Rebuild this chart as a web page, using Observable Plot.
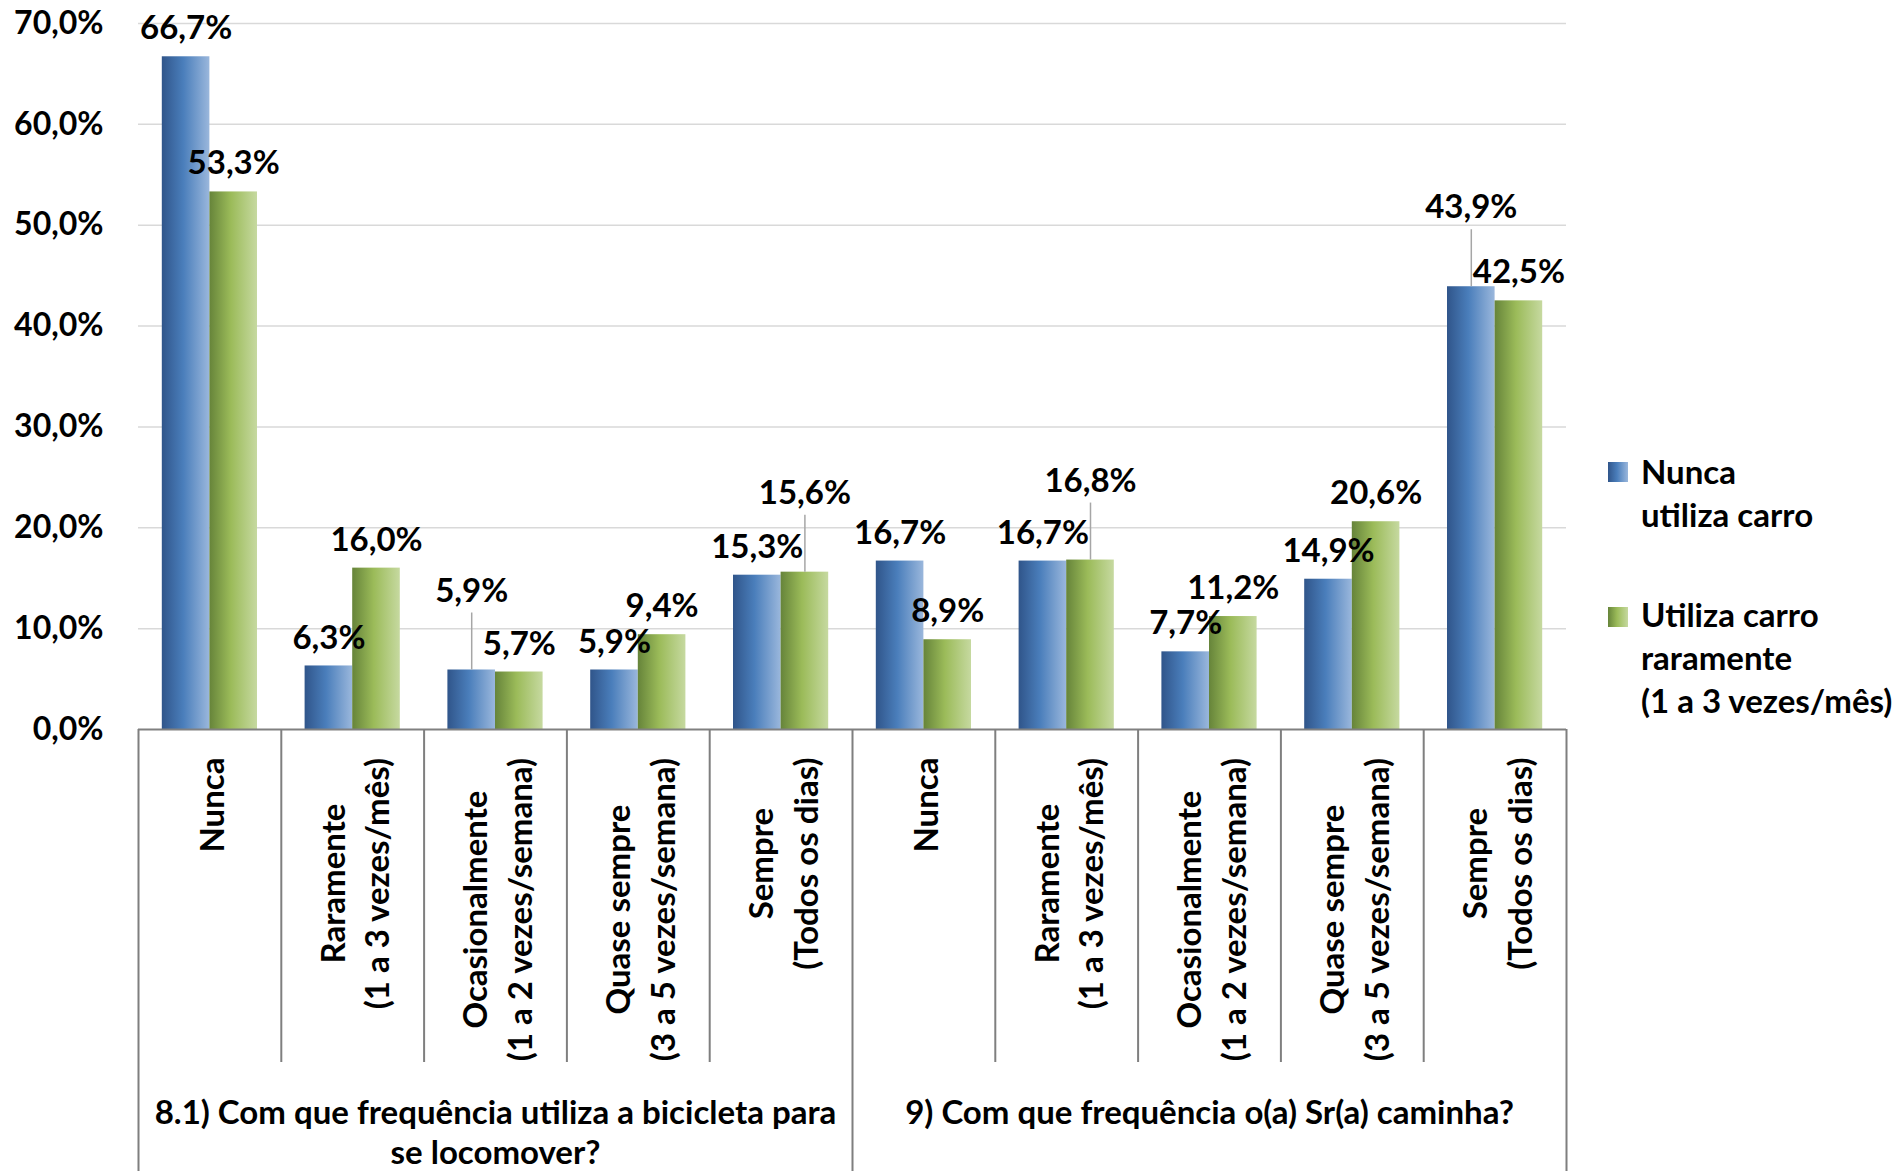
<!DOCTYPE html>
<html>
<head>
<meta charset="utf-8">
<script src="https://cdn.jsdelivr.net/npm/d3@7"></script>
<script src="https://cdn.jsdelivr.net/npm/@observablehq/plot@0.6"></script>
<style>
  html, body { margin: 0; padding: 0; background: #fff; }
  #wrap { position: relative; width: 1903px; height: 1171px; font-family: Lato, "Open Sans", sans-serif; font-weight: bold; color: #000; }
  .lg-sq { position: absolute; width: 20px; height: 20px; }
  .lg-tx { position: absolute; font-size: 33px; line-height: 43px; white-space: pre; }
</style>
</head>
<body>
<div id="wrap"></div>
<script>
// ---------------- data ----------------
const categories = [
  "Nunca",
  "Raramente\n(1 a 3 vezes/mês)",
  "Ocasionalmente\n(1 a 2 vezes/semana)",
  "Quase sempre\n(3 a 5 vezes/semana)",
  "Sempre\n(Todos os dias)"
];
const groups = [
  "8.1) Com que frequência utiliza a bicicleta para\nse locomover?",
  "9) Com que frequência o(a) Sr(a) caminha?"
];
const series = ["Nunca utiliza carro", "Utiliza carro raramente (1 a 3 vezes/mês)"];
const legendLabels = ["Nunca\nutiliza carro", "Utiliza carro\nraramente\n(1 a 3 vezes/mês)"];
const nuncaUtilizaCarro     = [66.7, 6.3, 5.9, 5.9, 15.3, 16.7, 16.7, 7.7, 14.9, 43.9];
const utilizaCarroRaramente = [53.3, 16.0, 5.7, 9.4, 15.6, 8.9, 16.8, 11.2, 20.6, 42.5];
// labels pulled up with a leader line: [group index, category index, series index]
const leaderLabels = [[0, 2, 0], [0, 4, 1], [1, 1, 1], [1, 4, 0]];
const yTicks = [0, 10, 20, 30, 40, 50, 60, 70];

// ---------------- layout ----------------
const W = 1903, H = 1171;
const mL = 138, mR = 337, mT = 23, mB = 442;
const frameH = H - mT - mB;
const catSepLen = 333;
const FONT = "Lato";
const FS = 33;      // labels
const FS_AX = 32;   // y tick labels
const colorsBlue = ["#30558a", "#4a7ebb", "#9ab7dc"];
const colorsGreen = ["#66843a", "#9bbb59", "#c6d9a0"];

const fmt = v => v.toFixed(1).replace(".", ",") + "%";
const nCat = categories.length;
const valuesBySeries = [nuncaUtilizaCarro, utilizaCarroRaramente];

const rows = [];
groups.forEach((g, gi) => categories.forEach((c, ci) => {
  const idx = gi * nCat + ci;
  valuesBySeries.forEach((vals, si) => {
    rows.push({
      group: g, gi, category: c, ci, idx, series: series[si], si, value: vals[idx],
      leader: leaderLabels.some(([a, b, s]) => a === gi && b === ci && s === si)
    });
  });
}));

const barX1 = d => d.idx + (d.si + 0.5) / 3;
const barX2 = d => d.idx + (d.si + 1.5) / 3;
const barC = d => d.idx + (d.si + 1) / 3;

// measure text widths for centering rotated multi-line labels
const ctx = document.createElement("canvas").getContext("2d");
ctx.font = `bold ${FS}px ${FONT}`;
const maxLineWidth = s => d3.max(s.split("\n"), l => ctx.measureText(l).width);

const pxPerUnit = frameH / 70;

const catLabelMarks = categories.map((c, ci) =>
  Plot.text(rows.filter(d => d.si === 0 && d.ci === ci), {
    x: d => d.idx + 0.5,
    text: "category",
    frameAnchor: "bottom",
    rotate: -90,
    textAnchor: "middle",
    lineAnchor: "middle",
    lineHeight: 1.36,
    dy: 28 + maxLineWidth(c) / 2,
    fontSize: FS,
    fontWeight: "bold",
    fill: "#000"
  })
);

const boundaries = d3.range(0, groups.length * nCat + 1);

const chart = Plot.plot({
  width: W,
  height: H,
  marginLeft: mL,
  marginRight: mR,
  marginTop: mT,
  marginBottom: mB,
  style: { fontFamily: FONT, fontSize: FS + "px", fontWeight: "bold", color: "#000", background: "#fff", overflow: "visible" },
  x: { domain: [0, groups.length * nCat], axis: null },
  y: { domain: [0, 70], axis: null },
  marks: [
    Plot.ruleY(yTicks.filter(t => t > 0), { stroke: "#d9d9d9", strokeWidth: 1.5 }),
    Plot.axisY({ ticks: yTicks, tickFormat: fmt, tickSize: 0, tickPadding: 35, fontSize: FS_AX, fontWeight: "bold", label: null, fill: "#000" }),
    Plot.rectY(rows.filter(d => d.si === 0), { x1: barX1, x2: barX2, y: "value", fill: "url(#gBlue)" }),
    Plot.rectY(rows.filter(d => d.si === 1), { x1: barX1, x2: barX2, y: "value", fill: "url(#gGreen)" }),
    Plot.ruleY([0], { stroke: "#808080", strokeWidth: 2 }),
    Plot.ruleX(boundaries.filter(b => b % nCat !== 0), { x: d => d, insetTop: frameH, insetBottom: -catSepLen, stroke: "#7f7f7f", strokeWidth: 2 }),
    Plot.ruleX(boundaries.filter(b => b % nCat === 0), { x: d => d, insetTop: frameH, insetBottom: -mB, stroke: "#7f7f7f", strokeWidth: 2 }),
    Plot.ruleX(rows.filter(d => d.leader), { x: barC, y1: "value", y2: d => d.value + 57 / pxPerUnit, stroke: "#a6a6a6", strokeWidth: 1.5 }),
    Plot.text(rows.filter(d => !d.leader), { x: barC, y: "value", text: d => fmt(d.value), dy: -28, fontSize: FS, fontWeight: "bold", fill: "#000" }),
    Plot.text(rows.filter(d => d.leader), { x: barC, y: "value", text: d => fmt(d.value), dy: -79, fontSize: FS, fontWeight: "bold", fill: "#000" }),
    ...catLabelMarks,
    Plot.text(groups.map((g, gi) => ({ g, gi })), {
      x: d => (d.gi + 0.5) * nCat,
      text: "g",
      frameAnchor: "bottom",
      textAnchor: "middle",
      lineAnchor: "top",
      lineHeight: 1.22,
      dy: 366,
      fontSize: FS,
      fontWeight: "bold",
      fill: "#000"
    })
  ]
});

// gradient definitions for the bars
const defs = d3.select(chart).insert("defs", ":first-child");
function addGrad(id, cols) {
  const g = defs.append("linearGradient").attr("id", id).attr("x1", "0").attr("x2", "1").attr("y1", "0").attr("y2", "0");
  g.append("stop").attr("offset", "0%").attr("stop-color", cols[0]);
  g.append("stop").attr("offset", "45%").attr("stop-color", cols[1]);
  g.append("stop").attr("offset", "100%").attr("stop-color", cols[2]);
}
addGrad("gBlue", colorsBlue);
addGrad("gGreen", colorsGreen);

const wrap = document.getElementById("wrap");
wrap.appendChild(chart);

// legend
const legendItems = [
  { label: legendLabels[0], cols: colorsBlue, sqTop: 462, baseline: 485 },
  { label: legendLabels[1], cols: colorsGreen, sqTop: 607, baseline: 628 }
];
legendItems.forEach(it => {
  const sq = document.createElement("div");
  sq.className = "lg-sq";
  sq.style.left = "1608px";
  sq.style.top = it.sqTop + "px";
  sq.style.background = `linear-gradient(to right, ${it.cols[0]} 0%, ${it.cols[1]} 45%, ${it.cols[2]} 100%)`;
  wrap.appendChild(sq);
  const tx = document.createElement("div");
  tx.className = "lg-tx";
  tx.style.left = "1641px";
  tx.style.top = (it.baseline - 35) + "px";
  tx.textContent = it.label;
  wrap.appendChild(tx);
});
</script>
</body>
</html>
